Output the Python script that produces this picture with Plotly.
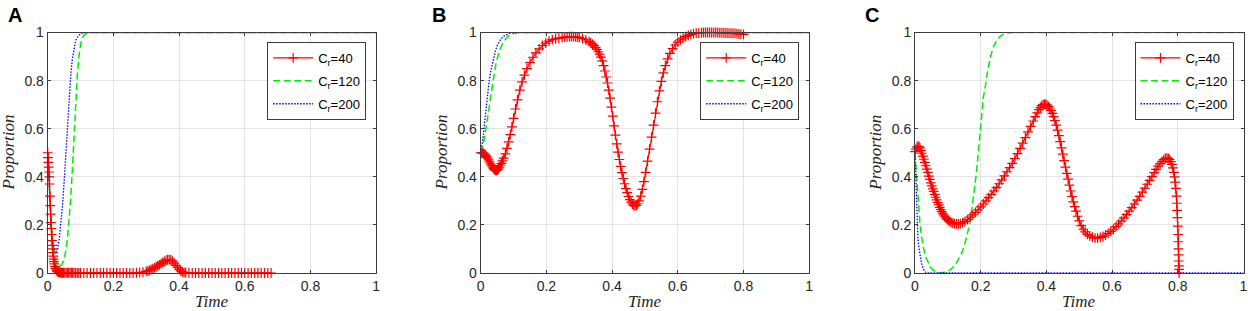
import plotly.graph_objects as go

# ---------------- data ----------------
legend_names = ["C<sub>r</sub>=40", "C<sub>r</sub>=120", "C<sub>r</sub>=200"]
panel_labels = ["A", "B", "C"]
tick_vals = [0, 0.2, 0.4, 0.6, 0.8, 1]
tick_text = ["0", "0.2", "0.4", "0.6", "0.8", "1"]

# Panel A
a_red = [(0, 0.5), (0.001, 0.48), (0.002, 0.46), (0.003, 0.44), (0.004, 0.42), (0.005, 0.40),
         (0.006, 0.37), (0.007, 0.32), (0.008, 0.28), (0.009, 0.245), (0.010, 0.21), (0.011, 0.185),
         (0.012, 0.16), (0.013, 0.135), (0.014, 0.115), (0.015, 0.10), (0.016, 0.085), (0.017, 0.07),
         (0.018, 0.058), (0.019, 0.047), (0.020, 0.038), (0.022, 0.027), (0.024, 0.019), (0.026, 0.013),
         (0.028, 0.009), (0.030, 0.006), (0.033, 0.004), (0.036, 0.003), (0.039, 0.002), (0.042, 0.0015),
         (0.045, 0.001), (0.048, 0.001), (0.052, 0.001), (0.056, 0.001), (0.060, 0.001), (0.064, 0.001),
         (0.068, 0.001), (0.072, 0.001), (0.076, 0.001), (0.080, 0.001), (0.085, 0.0), (0.090, 0.0),
         (0.095, 0.0), (0.10, 0.0), (0.11, 0.0), (0.12, 0.0), (0.13, 0.0), (0.14, 0.0), (0.15, 0.0),
         (0.16, 0.0), (0.17, 0.0), (0.18, 0.0), (0.19, 0.0), (0.20, 0.0), (0.21, 0.0), (0.22, 0.0),
         (0.23, 0.0), (0.24, 0.0), (0.25, 0.0), (0.26, 0.0), (0.27, 0.001), (0.28, 0.002), (0.29, 0.004),
         (0.30, 0.007), (0.305, 0.009), (0.31, 0.012), (0.315, 0.015), (0.32, 0.018), (0.325, 0.022),
         (0.33, 0.026), (0.335, 0.03), (0.34, 0.034), (0.345, 0.039), (0.35, 0.044), (0.355, 0.048),
         (0.36, 0.052), (0.365, 0.055), (0.37, 0.056), (0.375, 0.054), (0.38, 0.049), (0.385, 0.041),
         (0.39, 0.032), (0.395, 0.023), (0.40, 0.015), (0.405, 0.009), (0.41, 0.005), (0.415, 0.003),
         (0.42, 0.002), (0.43, 0.001), (0.44, 0.0005), (0.45, 0.0), (0.46, 0.0), (0.47, 0.0), (0.48, 0.0),
         (0.49, 0.0), (0.50, 0.0), (0.51, 0.0), (0.52, 0.0), (0.53, 0.0), (0.54, 0.0), (0.55, 0.0),
         (0.56, 0.0), (0.57, 0.0), (0.58, 0.0), (0.59, 0.0), (0.60, 0.0), (0.61, 0.0), (0.62, 0.0),
         (0.63, 0.0), (0.64, 0.0), (0.65, 0.0), (0.66, 0.0), (0.67, 0.0), (0.68, 0.0)]
a_green = [(0, 0.5), (0.005, 0.35), (0.01, 0.22), (0.015, 0.13), (0.02, 0.08), (0.025, 0.05),
           (0.03, 0.033), (0.035, 0.028), (0.04, 0.03), (0.045, 0.04), (0.05, 0.06), (0.055, 0.09),
           (0.06, 0.14), (0.065, 0.21), (0.07, 0.31), (0.075, 0.43), (0.08, 0.57), (0.085, 0.71),
           (0.09, 0.82), (0.095, 0.9), (0.1, 0.95), (0.105, 0.975), (0.11, 0.988), (0.12, 0.997),
           (0.13, 1.0), (1.0, 1.0)]
a_blue = [(0, 0.5), (0.005, 0.33), (0.01, 0.2), (0.015, 0.13), (0.02, 0.1), (0.025, 0.09),
          (0.03, 0.1), (0.035, 0.14), (0.04, 0.2), (0.045, 0.28), (0.05, 0.38), (0.055, 0.5),
          (0.06, 0.62), (0.065, 0.73), (0.07, 0.82), (0.075, 0.89), (0.08, 0.935), (0.085, 0.965),
          (0.09, 0.98), (0.1, 0.995), (0.11, 1.0), (1.0, 1.0)]

# Panel B
b_red = [(0, 0.5), (0.003, 0.5), (0.006, 0.499), (0.009, 0.497), (0.012, 0.494), (0.015, 0.49),
         (0.018, 0.485), (0.021, 0.478), (0.024, 0.47), (0.027, 0.462), (0.03, 0.454), (0.033, 0.447),
         (0.036, 0.44), (0.039, 0.434), (0.042, 0.43), (0.045, 0.427), (0.048, 0.427), (0.051, 0.429),
         (0.054, 0.433), (0.057, 0.44), (0.06, 0.448), (0.063, 0.456), (0.066, 0.466), (0.07, 0.478),
         (0.075, 0.495), (0.08, 0.518), (0.085, 0.545), (0.09, 0.575), (0.095, 0.608), (0.1, 0.643),
         (0.106, 0.682), (0.112, 0.72), (0.119, 0.76), (0.126, 0.795), (0.133, 0.823), (0.141, 0.85),
         (0.15, 0.875), (0.159, 0.897), (0.168, 0.915), (0.178, 0.932), (0.188, 0.946), (0.198, 0.956),
         (0.208, 0.964), (0.218, 0.97), (0.228, 0.974), (0.238, 0.977), (0.248, 0.979), (0.256, 0.981),
         (0.263, 0.982), (0.27, 0.983), (0.276, 0.983), (0.282, 0.983), (0.288, 0.982), (0.294, 0.981),
         (0.30, 0.979), (0.31, 0.975), (0.32, 0.969), (0.33, 0.962), (0.335, 0.957), (0.34, 0.952),
         (0.345, 0.946), (0.35, 0.938), (0.354, 0.93), (0.358, 0.92), (0.362, 0.91), (0.366, 0.898),
         (0.37, 0.882), (0.374, 0.862), (0.378, 0.84), (0.382, 0.815), (0.386, 0.79), (0.39, 0.76),
         (0.394, 0.727), (0.398, 0.69), (0.402, 0.652), (0.406, 0.612), (0.41, 0.573), (0.414, 0.537),
         (0.418, 0.503), (0.422, 0.472), (0.426, 0.443), (0.43, 0.417), (0.434, 0.393), (0.438, 0.371),
         (0.442, 0.351), (0.446, 0.334), (0.45, 0.318), (0.454, 0.305), (0.458, 0.295), (0.462, 0.287),
         (0.466, 0.281), (0.47, 0.279), (0.474, 0.281), (0.478, 0.288), (0.482, 0.3), (0.487, 0.32),
         (0.492, 0.348), (0.497, 0.38), (0.502, 0.418), (0.508, 0.465), (0.514, 0.515), (0.52, 0.565),
         (0.526, 0.615), (0.532, 0.665), (0.538, 0.712), (0.544, 0.757), (0.55, 0.797), (0.556, 0.832),
         (0.562, 0.862), (0.569, 0.89), (0.576, 0.913), (0.584, 0.933), (0.592, 0.948), (0.60, 0.96),
         (0.608, 0.969), (0.616, 0.977), (0.624, 0.983), (0.632, 0.988), (0.64, 0.992), (0.648, 0.995),
         (0.656, 0.997), (0.664, 0.998), (0.672, 0.999), (0.678, 1.0), (0.684, 1.0), (0.69, 1.0),
         (0.696, 1.0), (0.702, 1.0), (0.708, 1.0), (0.714, 1.0), (0.72, 1.0), (0.726, 0.999),
         (0.732, 0.999), (0.738, 0.999), (0.744, 0.998), (0.75, 0.998), (0.756, 0.997), (0.762, 0.997),
         (0.768, 0.996), (0.774, 0.996), (0.78, 0.995), (0.786, 0.994), (0.792, 0.993), (0.80, 0.992)]
b_green = [(0, 0.5), (0.005, 0.52), (0.01, 0.55), (0.015, 0.59), (0.02, 0.63), (0.025, 0.68),
           (0.03, 0.73), (0.035, 0.78), (0.04, 0.82), (0.045, 0.86), (0.05, 0.89), (0.055, 0.915),
           (0.06, 0.935), (0.07, 0.962), (0.08, 0.98), (0.09, 0.99), (0.1, 0.996), (0.11, 0.999),
           (0.12, 1.0), (1.0, 1.0)]
b_blue = [(0, 0.5), (0.005, 0.54), (0.01, 0.6), (0.015, 0.67), (0.02, 0.73), (0.025, 0.79),
          (0.03, 0.835), (0.035, 0.87), (0.04, 0.9), (0.045, 0.925), (0.05, 0.945), (0.06, 0.97),
          (0.07, 0.985), (0.08, 0.993), (0.09, 0.998), (0.1, 1.0), (1.0, 1.0)]

# Panel C
c_red = [(0, 0.505), (0.003, 0.515), (0.006, 0.523), (0.009, 0.527), (0.012, 0.526), (0.015, 0.52),
         (0.018, 0.51), (0.021, 0.498), (0.024, 0.486), (0.027, 0.473), (0.03, 0.46), (0.033, 0.446),
         (0.036, 0.432), (0.039, 0.418), (0.042, 0.403), (0.045, 0.389), (0.048, 0.375), (0.051, 0.362),
         (0.054, 0.35), (0.057, 0.339), (0.06, 0.327), (0.063, 0.315), (0.066, 0.304), (0.069, 0.293),
         (0.072, 0.283), (0.075, 0.273), (0.078, 0.264), (0.081, 0.256), (0.084, 0.249), (0.087, 0.242),
         (0.09, 0.236), (0.094, 0.229), (0.098, 0.223), (0.102, 0.218), (0.106, 0.214), (0.11, 0.21),
         (0.115, 0.207), (0.12, 0.205), (0.126, 0.204), (0.132, 0.204), (0.138, 0.205), (0.145, 0.209),
         (0.152, 0.214), (0.16, 0.222), (0.168, 0.232), (0.176, 0.242), (0.184, 0.252), (0.192, 0.263),
         (0.2, 0.275), (0.208, 0.287), (0.216, 0.3), (0.224, 0.313), (0.232, 0.327), (0.24, 0.341),
         (0.248, 0.355), (0.256, 0.371), (0.264, 0.387), (0.272, 0.404), (0.28, 0.421), (0.288, 0.438),
         (0.296, 0.456), (0.304, 0.476), (0.312, 0.496), (0.32, 0.518), (0.328, 0.54), (0.336, 0.563),
         (0.344, 0.587), (0.352, 0.61), (0.36, 0.632), (0.366, 0.65), (0.372, 0.666), (0.377, 0.679),
         (0.382, 0.689), (0.386, 0.696), (0.39, 0.7), (0.394, 0.702), (0.398, 0.701), (0.402, 0.698),
         (0.406, 0.693), (0.41, 0.686), (0.414, 0.676), (0.418, 0.664), (0.422, 0.65), (0.426, 0.634),
         (0.43, 0.615), (0.434, 0.594), (0.438, 0.571), (0.442, 0.546), (0.446, 0.52), (0.45, 0.494),
         (0.454, 0.467), (0.458, 0.44), (0.462, 0.414), (0.466, 0.39), (0.47, 0.365), (0.474, 0.341),
         (0.478, 0.318), (0.482, 0.296), (0.486, 0.276), (0.49, 0.257), (0.495, 0.236), (0.5, 0.217),
         (0.506, 0.197), (0.512, 0.182), (0.518, 0.171), (0.525, 0.161), (0.532, 0.154), (0.54, 0.149),
         (0.548, 0.145), (0.556, 0.145), (0.564, 0.148), (0.572, 0.152), (0.58, 0.158), (0.588, 0.165),
         (0.596, 0.173), (0.604, 0.182), (0.612, 0.193), (0.62, 0.204), (0.628, 0.216), (0.636, 0.229),
         (0.644, 0.243), (0.652, 0.257), (0.66, 0.272), (0.668, 0.287), (0.676, 0.303), (0.684, 0.319),
         (0.692, 0.336), (0.7, 0.353), (0.707, 0.369), (0.714, 0.385), (0.721, 0.401), (0.728, 0.417),
         (0.734, 0.431), (0.74, 0.444), (0.746, 0.455), (0.752, 0.464), (0.757, 0.471), (0.762, 0.476),
         (0.767, 0.478), (0.771, 0.477), (0.775, 0.472), (0.779, 0.463), (0.782, 0.452), (0.785, 0.437),
         (0.788, 0.418), (0.79, 0.4), (0.792, 0.378), (0.794, 0.352), (0.796, 0.32), (0.797, 0.29),
         (0.798, 0.26), (0.799, 0.23), (0.8, 0.195), (0.801, 0.16), (0.8015, 0.13), (0.802, 0.1),
         (0.8025, 0.075), (0.803, 0.05), (0.8035, 0.03), (0.804, 0.015), (0.804, 0.0)]
c_green = [(0, 0.5), (0.004, 0.42), (0.007, 0.347), (0.011, 0.27), (0.015, 0.207), (0.02, 0.15),
           (0.025, 0.109), (0.033, 0.065), (0.041, 0.039), (0.048, 0.022), (0.056, 0.011), (0.066, 0.004),
           (0.076, 0.001), (0.086, 0.001), (0.096, 0.004), (0.106, 0.012), (0.117, 0.025), (0.127, 0.043),
           (0.137, 0.067), (0.145, 0.092), (0.152, 0.123), (0.16, 0.162), (0.167, 0.207), (0.172, 0.255),
           (0.177, 0.305), (0.182, 0.36), (0.187, 0.417), (0.192, 0.49), (0.196, 0.557), (0.2, 0.625),
           (0.203, 0.683), (0.208, 0.73), (0.213, 0.766), (0.22, 0.83), (0.23, 0.9), (0.24, 0.945),
           (0.25, 0.97), (0.26, 0.985), (0.27, 0.993), (0.28, 0.998), (0.3, 1.0), (1.0, 1.0)]
c_blue = [(0, 0.5), (0.002, 0.4), (0.004, 0.28), (0.006, 0.2), (0.009, 0.14), (0.013, 0.095),
          (0.017, 0.06), (0.02, 0.04), (0.025, 0.018), (0.03, 0.006), (0.035, 0.001), (0.04, 0.0),
          (1.0, 0.0)]

panels = [(a_red, a_green, a_blue), (b_red, b_green, b_blue), (c_red, c_green, c_blue)]

# ---------------- layout geometry (pixels) ----------------
W, H = 1248, 311
ax_left = [47.7, 480.7, 915.0]
ax_width = 328.5
ax_top, ax_bottom = 32.5, 273.0

AXIS_COL = "#3c3c3c"
TEXT_COL = "#262626"
GRID_COL = "#e4e4e4"

fig = go.Figure()

for i, (red, green, blue) in enumerate(panels):
    sfx = "" if i == 0 else str(i + 1)
    xa, ya = "x" + sfx, "y" + sfx
    leg = "legend" + sfx
    rt, ry = zip(*red)
    gt, gy = zip(*green)
    bt, by = zip(*blue)
    fig.add_trace(go.Scatter(x=gt, y=gy, mode="lines", name=legend_names[1], xaxis=xa, yaxis=ya,
                             line=dict(color="#00ee00", width=1.5, dash="7px,3.5px"), legend=leg,
                             legendgroup="g%d" % i, cliponaxis=False, legendrank=2))
    fig.add_trace(go.Scatter(x=bt, y=by, mode="lines", name=legend_names[2], xaxis=xa, yaxis=ya,
                             line=dict(color="#0000ff", width=1.3, dash="1.5px,1.5px"), legend=leg,
                             legendgroup="b%d" % i, cliponaxis=False, legendrank=3))
    fig.add_trace(go.Scatter(x=rt, y=ry, mode="lines+markers", name=legend_names[0], xaxis=xa, yaxis=ya,
                             line=dict(color="#ff0000", width=1.2),
                             marker=dict(symbol="cross-thin", size=7, line=dict(color="#ff0000", width=1.2)),
                             legend=leg, legendgroup="r%d" % i, cliponaxis=False, legendrank=1))

    x0 = ax_left[i] / W
    x1 = (ax_left[i] + ax_width) / W
    y0 = (H - ax_bottom) / H
    y1 = (H - ax_top) / H
    axcommon = dict(range=[0, 1], tickvals=tick_vals, ticktext=tick_text, showgrid=True,
                    gridcolor=GRID_COL, gridwidth=1, zeroline=False, showline=True,
                    linecolor=AXIS_COL, linewidth=1, mirror="ticks", ticks="inside", ticklen=3,
                    tickcolor=AXIS_COL, tickfont=dict(family="Liberation Sans, Arial", size=14, color=TEXT_COL),
                    fixedrange=True)
    fig.update_layout(**{
        "xaxis" + sfx: dict(domain=[x0, x1], anchor=ya, **axcommon),
        "yaxis" + sfx: dict(domain=[y0, y1], anchor=xa, **axcommon),
        leg: dict(x=(ax_left[i] + ax_width - 10) / W, y=(H - 42) / H, xanchor="right", yanchor="top",
                  bgcolor="white", bordercolor=AXIS_COL, borderwidth=1, itemwidth=40,
                  font=dict(family="Liberation Sans, Arial", size=13, color="black"),
                  traceorder="grouped", tracegroupgap=3),
    })

    # axis titles
    fig.add_annotation(x=(ax_left[i] + ax_width / 2) / W, y=(H - 301.5) / H, xref="paper", yref="paper",
                       xanchor="center", yanchor="middle",
                       text="<i>Time</i>", showarrow=False,
                       font=dict(family="Liberation Serif, Times New Roman", size=17, color=TEXT_COL))
    fig.add_annotation(x=(ax_left[i] - 39) / W, y=(H - 152.7) / H, xref="paper", yref="paper",
                       xanchor="center", yanchor="middle",
                       text="<i>Proportion</i>", textangle=-90, showarrow=False,
                       font=dict(family="Liberation Serif, Times New Roman", size=17, color=TEXT_COL))
    # panel letter
    fig.add_annotation(x=[15, 439, 872][i] / W, y=(H - 15.5) / H, xref="paper", yref="paper",
                       xanchor="center", yanchor="middle",
                       text="<b>" + panel_labels[i] + "</b>", showarrow=False,
                       font=dict(family="Liberation Sans, Arial", size=20, color="black"))

fig.update_layout(width=W, height=H, autosize=False, margin=dict(l=0, r=0, t=0, b=0, autoexpand=False),
                  paper_bgcolor="white", plot_bgcolor="white", showlegend=True)

fig.write_html("out.html", config={"responsive": False, "displayModeBar": False},
               post_script="document.body.style.margin='0';document.body.style.overflow='hidden';"
                           "document.documentElement.style.overflow='hidden';")
